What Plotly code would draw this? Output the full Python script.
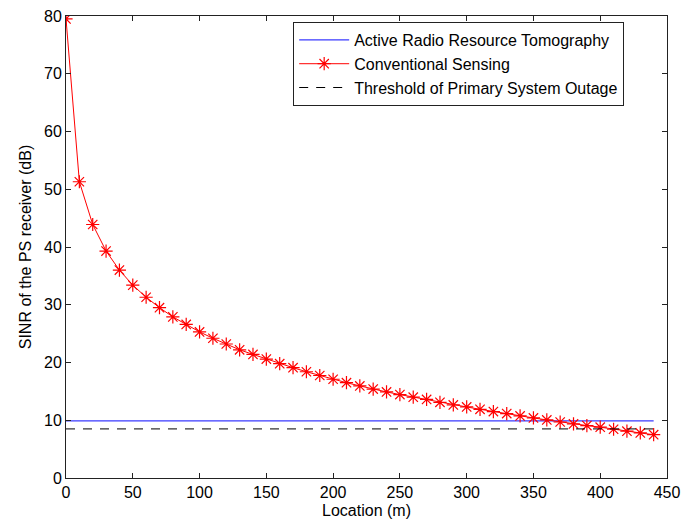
import plotly.graph_objects as go

location = list(range(0, 450, 10))
conventional = [79.5, 51.3, 43.9, 39.3, 36.0, 33.4, 31.3, 29.5, 27.9, 26.6,
                25.3, 24.2, 23.2, 22.2, 21.4, 20.6, 19.8, 19.1, 18.4, 17.75,
                17.1, 16.5, 15.95, 15.4, 14.9, 14.45, 14.0, 13.6, 13.1, 12.66,
                12.3, 11.9, 11.5, 11.16, 10.75, 10.4, 10.06, 9.7, 9.36, 9.08,
                8.8, 8.44, 8.1, 7.8, 7.5]
arrt_level = 9.9
threshold_level = 8.5

font = "Liberation Sans, Arial, Helvetica, sans-serif"

fig = go.Figure()
fig.add_trace(go.Scatter(
    x=location, y=[arrt_level] * len(location), mode="lines",
    name="Active Radio Resource Tomography",
    line=dict(color="#3a3aff", width=1.2)))
fig.add_trace(go.Scatter(
    x=location, y=conventional, mode="lines+markers",
    name="Conventional Sensing",
    line=dict(color="#ff0000", width=1),
    marker=dict(symbol="asterisk-open", size=11, color="#ff0000",
                line=dict(color="#ff0000", width=1.2))))
fig.add_trace(go.Scatter(
    x=location, y=[threshold_level] * len(location), mode="lines",
    name="Threshold of Primary System Outage",
    line=dict(color="#000000", width=1, dash="9px,8px")))

axis_common = dict(
    showgrid=False, zeroline=False, showline=True, linecolor="#222222",
    linewidth=1, mirror="ticks", ticks="inside", ticklen=5,
    tickcolor="#222222", tickfont=dict(size=16, color="#000000", family=font),
    automargin=False,
)
fig.update_xaxes(range=[0, 450], tickvals=list(range(0, 451, 50)),
                 title=dict(text="Location (m)", font=dict(size=16, family=font),
                            standoff=4),
                 **axis_common)
fig.update_yaxes(range=[0, 80], tickvals=list(range(0, 81, 10)),
                 title=dict(text="SINR of the PS receiver (dB)",
                            font=dict(size=16, family=font), standoff=8),
                 **axis_common)

fig.update_layout(
    width=685, height=523,
    margin=dict(l=66, r=18, t=16, b=45),
    paper_bgcolor="white", plot_bgcolor="white",
    font=dict(family=font, size=16, color="#000000"),
    legend=dict(x=0.378, y=0.987, xanchor="left", yanchor="top",
                bgcolor="white", bordercolor="#222222", borderwidth=1,
                font=dict(size=16, family=font), tracegroupgap=0,
                itemwidth=50),
    showlegend=True,
)

fig.write_html("out.html")
